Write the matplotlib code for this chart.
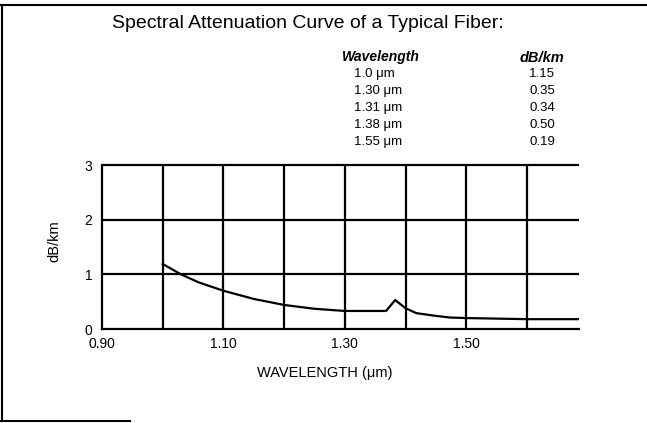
import matplotlib
matplotlib.use("Agg")
from matplotlib import pyplot as plt
from matplotlib.lines import Line2D

plt.rcParams['font.family'] = ['Liberation Sans', 'DejaVu Sans']

# curve
wavelength = [1.00, 1.03, 1.06, 1.10, 1.15, 1.20, 1.25, 1.30, 1.368, 1.383,
              1.40, 1.418, 1.45, 1.473, 1.50, 1.55, 1.60, 1.685]
attenuation = [1.19, 1.00, 0.85, 0.70, 0.55, 0.44, 0.37, 0.33, 0.33, 0.53,
               0.38, 0.29, 0.24, 0.21, 0.20, 0.19, 0.18, 0.18]

# inset table
table_wl = ["1.0 \u03bcm", "1.30 \u03bcm", "1.31 \u03bcm", "1.38 \u03bcm", "1.55 \u03bcm"]
table_db = ["1.15", "0.35", "0.34", "0.50", "0.19"]

x_labeled = [0.90, 1.10, 1.30, 1.50]
x_label_text = ["0.90", "1.10", "1.30", "1.50"]
x_grid = [1.00, 1.10, 1.20, 1.30, 1.40, 1.50, 1.60]
y_grid = [1, 2, 3]
y_ticks = [0, 1, 2, 3]

W, H = 647, 423
fig = plt.figure(figsize=(W / 100, H / 100), dpi=100)
fig.patch.set_facecolor('white')

# axes: x 0.90 at px 102, y 0 at px 329, 54.7 px per dB
ax = fig.add_axes([102 / W, (H - 329) / H, 476.5 / W, 165.6 / H])
ax.set_xlim(0.90, 1.685)
ax.set_ylim(0, 3.03)

lw = 1.6
ax.hlines(y_grid, 0.90, 1.685, color='black', lw=lw)
ax.vlines(x_grid, 0, 3, color='black', lw=lw)
ax.plot(wavelength, attenuation, color='black', lw=lw, solid_joinstyle='round')

for side in ['top', 'right']:
    ax.spines[side].set_visible(False)
for side in ['left', 'bottom']:
    ax.spines[side].set_linewidth(lw)
ax.spines['left'].set_bounds(0, 3)

ax.set_xticks(x_labeled)
ax.set_xticklabels(x_label_text)
ax.set_yticks(y_ticks)
ax.tick_params(axis='both', length=0, labelsize=10)
ax.tick_params(axis='x', pad=6)
ax.tick_params(axis='y', pad=7)

fig.text(54 / W, 1 - 241 / H, 'dB/km', rotation=90, ha='center', va='center', fontsize=10.5)
fig.text(325 / W, 1 - 373 / H, 'WAVELENGTH (\u03bcm)', ha='center', va='center', fontsize=10.5)

fig.text(112 / W, 1 - 24 / H, 'Spectral Attenuation Curve of a Typical Fiber:',
         ha='left', va='center', fontsize=14)

fig.text(342 / W, 1 - 57 / H, 'Wavelength', ha='left', va='center', fontsize=10,
         style='italic', weight='bold')
fig.text(542 / W, 1 - 58 / H, 'dB/km', ha='center', va='center', fontsize=10.5,
         style='italic', weight='bold')
for i, (wl, db) in enumerate(zip(table_wl, table_db)):
    yy = 1 - (74 + 17 * i) / H
    fig.text(354 / W, yy, wl, ha='left', va='center', fontsize=9.5)
    fig.text(542 / W, yy, db, ha='center', va='center', fontsize=9.5)

# scanned page frame
fig.add_artist(Line2D([0, 1], [1 - 5 / H, 1 - 5 / H], color='black', lw=1.5))
fig.add_artist(Line2D([2 / W, 2 / W], [1 - 5 / H, 1 - 421 / H], color='black', lw=1.5))
fig.add_artist(Line2D([0, 130 / W], [1 - 421 / H, 1 - 421 / H], color='black', lw=1.5))

fig.savefig('out.png', dpi=100)
